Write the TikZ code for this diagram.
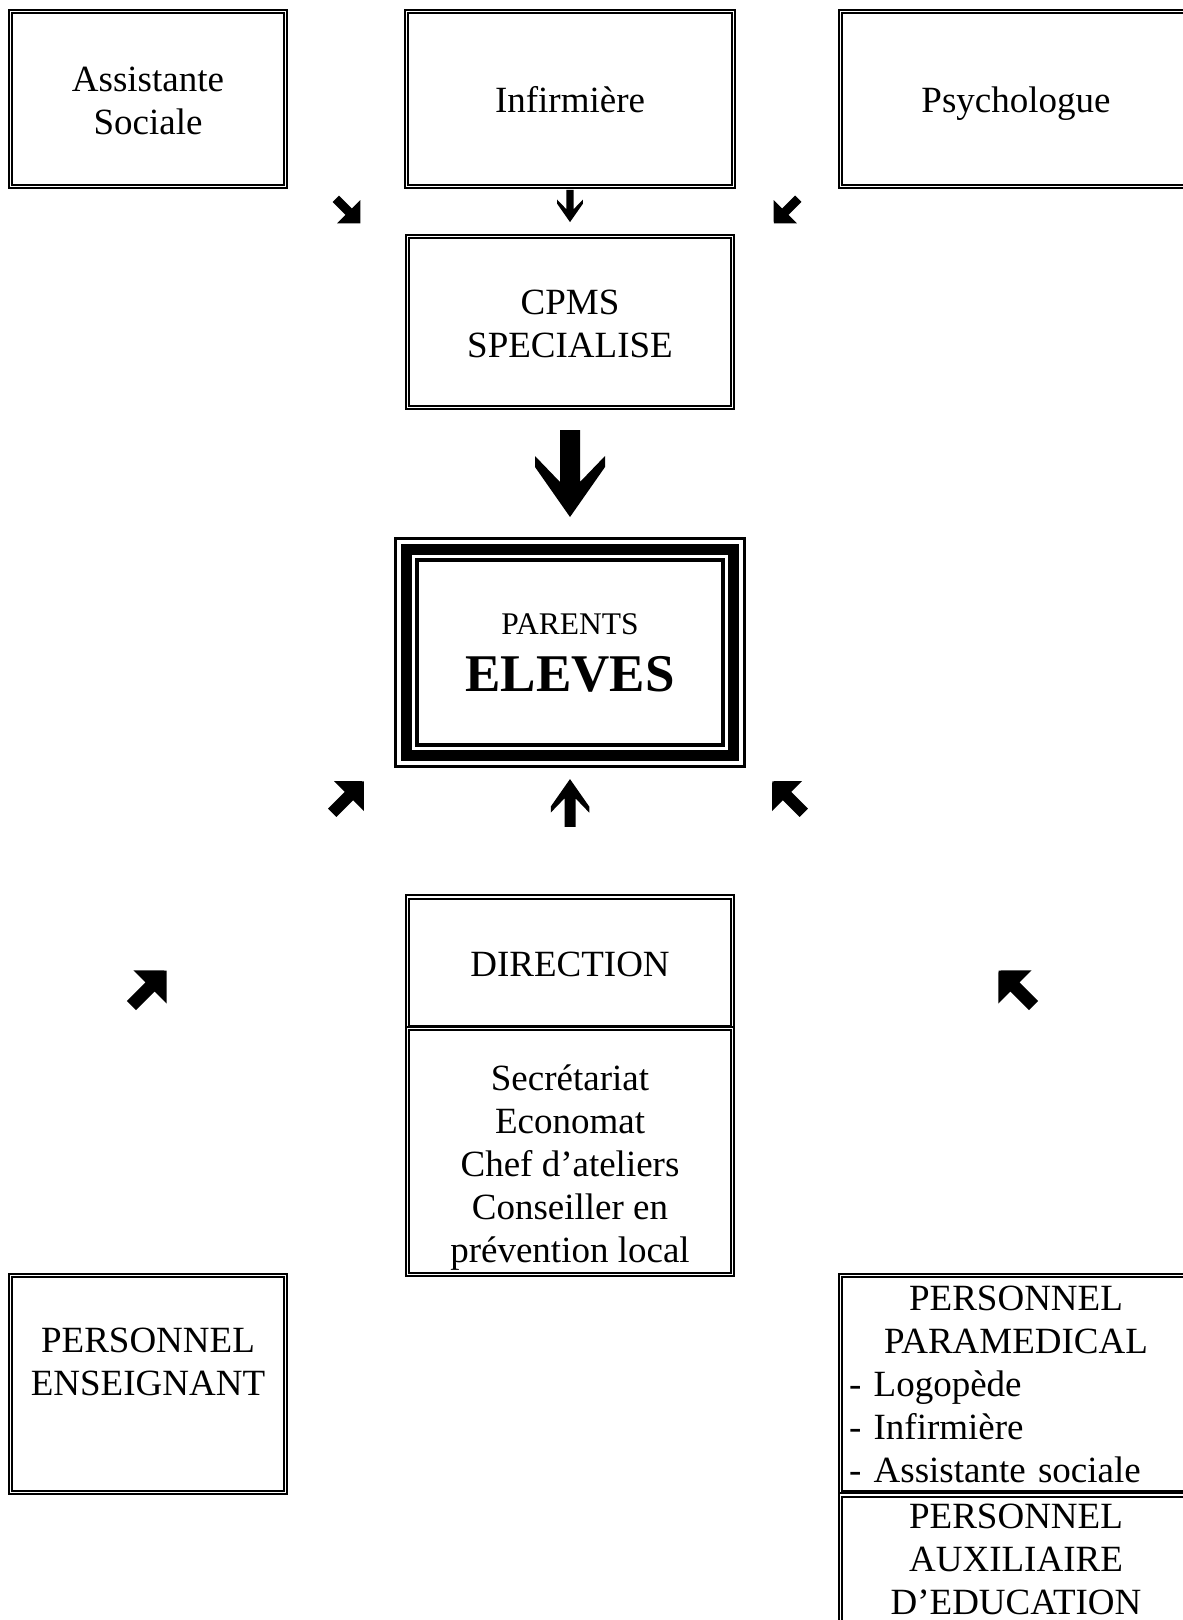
\documentclass[tikz,border=0pt]{standalone}
\usepackage{fontspec}
\setmainfont{Liberation Serif}
\newcommand\topstrut{\rule{0pt}{37pt}}
\newcommand\botstrut{\rule[-10pt]{0pt}{10pt}}
\begin{document}
\begin{tikzpicture}[x=1pt, y=-1pt, font=\fontsize{37}{43}\selectfont]
  \tikzstyle{dblbox}=[draw, double, line width=2.1pt, double distance=1.6pt, inner sep=0pt, align=center]
  \tikzset{
    vblock/.pic={\fill (-10,-43.5) -- (10,-43.5) -- (10,8.5) -- (35,-17.5) -- (35,-6.5) -- (0,43.5) -- (-35,-6.5) -- (-35,-17.5) -- (-10,8.5) -- cycle;},
    dblock/.pic={\fill (-6.5,-24.75) -- (6.5,-24.75) -- (6.5,1.5) -- (23.5,1.5) -- (0,24.75) -- (-23.5,1.5) -- (-6.5,1.5) -- cycle;}
  }
  \useasboundingbox (0,0) rectangle (1183,1620);

  % Top row
  \node[dblbox, minimum width=275pt, minimum height=175pt] (soc) at (148,99) {\topstrut Assistante\\Sociale\botstrut};
  \node[dblbox, minimum width=327pt, minimum height=175pt] (inf) at (570,99) {\topstrut Infirmière\botstrut};
  \node[dblbox, minimum width=351pt, minimum height=175pt] (psy) at (1016,99) {\topstrut Psychologue\botstrut};
  \node[dblbox, minimum width=325pt, minimum height=171pt] (cpms) at (570,322) {\topstrut CPMS\\SPECIALISE\botstrut};

  % Centre box with triple frame
  \node[draw, line width=11pt, outer sep=0pt, minimum width=327pt, minimum height=206pt, align=center,
        font=\fontsize{31.5}{57}\selectfont] (parents) at (570,652.5) {PARENTS\\{\fontsize{53}{57}\selectfont\bfseries ELEVES}};
  \draw[line width=3pt] ([shift={(-11,-11)}]parents.north west) rectangle ([shift={(11,11)}]parents.south east);
  \draw[line width=3.5pt] ([shift={(10.5,10.5)}]parents.north west) rectangle ([shift={(-10.5,-10.5)}]parents.south east);

  % Lower boxes
  \node[dblbox, minimum width=325pt, minimum height=131pt] (dir) at (570,962.5) {\topstrut DIRECTION\botstrut};
  \node[dblbox, minimum width=325pt, minimum height=246pt] (serv) at (570,1151.5)
    {\rule{0pt}{58pt}Secrétariat\\Economat\\Chef d’ateliers\\Conseiller en\\prévention local};
  \node[dblbox, minimum width=275pt, minimum height=217pt] (ens) at (148,1384) {PERSONNEL\\ENSEIGNANT\rule[-44pt]{0pt}{44pt}};
  \node[dblbox, minimum width=351pt, minimum height=217pt, text width=334pt, align=left] (para) at (1016,1384)
    {{\centering PERSONNEL\\PARAMEDICAL\par}- Logopède\\- Infirmière\\- Assistante sociale};
  \node[dblbox, minimum width=351pt, minimum height=128pt] (aux) at (1016,1559) {PERSONNEL\\AUXILIAIRE\\D’EDUCATION};

  % Arrows
  \pic[rotate=45, scale=0.7] at (348,211) {dblock};
  \pic[scale=0.37] at (570,206) {vblock};
  \pic[rotate=-45, scale=0.7] at (786,211) {dblock};
  \pic at (570,473.5) {vblock};
  \pic[rotate=135, scale=0.9] at (348,797) {dblock};
  \pic[rotate=180, scale=0.55] at (570,803) {vblock};
  \pic[rotate=-135, scale=0.9] at (788,797) {dblock};
  \pic[rotate=135] at (149,988) {dblock};
  \pic[rotate=-135] at (1016,988) {dblock};
\end{tikzpicture}
\end{document}
